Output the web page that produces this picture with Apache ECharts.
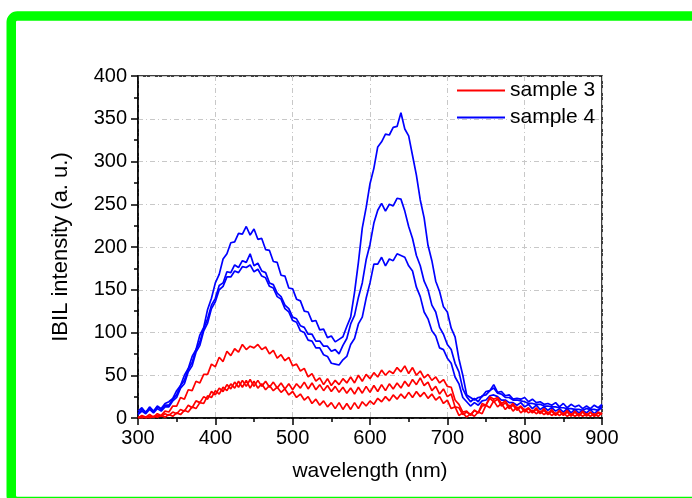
<!DOCTYPE html>
<html>
<head>
<meta charset="utf-8">
<script src="https://cdn.jsdelivr.net/npm/echarts@6/dist/echarts.min.js"></script>
<style>
html,body{margin:0;padding:0;background:#fff;}
#chart{width:692px;height:498px;}
</style>
</head>
<body>
<div id="chart"></div>
<script>
const wavelength = [300,305,310,315,320,325,330,335,340,345,350,355,360,365,370,375,380,385,390,395,
400,405,410,415,420,425,430,435,440,445,450,455,460,465,470,475,480,485,490,495,
500,505,510,515,520,525,530,535,540,545,550,555,560,565,570,575,580,585,590,595,
600,605,610,615,620,625,630,635,640,645,650,655,660,665,670,675,680,685,690,695,
700,705,710,715,720,725,730,735,740,745,750,755,760,765,770,775,780,785,790,795,
800,805,810,815,820,825,830,835,840,845,850,855,860,865,870,875,880,885,890,895,900];

// sample 4 (blue) - three spectra
const s4a = [8,12,6,13,8,14,11,17,19,23,32,38,50,58,72,80,97,106,127,140,
158,168,186,192,205,206,216,215,224,214,221,209,210,197,196,183,182,167,166,152,
151,139,137,125,124,113,114,103,104,94,96,89,92,95,107,118,147,182,222,246,
274,292,317,323,332,331,340,341,357,338,330,307,284,255,234,202,184,160,148,130,
124,105,95,69,50,27,24,21,24,25,31,32,39,30,31,26,27,22,23,22,
24,19,22,18,19,16,17,15,18,13,17,12,16,13,15,11,14,11,15,12,16];
const s4b = [5,10,7,12,7,13,10,15,15,22,27,38,44,57,65,80,89,105,116,132,
140,155,158,171,170,179,176,184,182,192,178,181,172,170,158,156,146,142,132,128,
118,116,108,106,98,98,90,90,84,84,78,80,75,85,93,110,120,141,158,185,
203,228,243,251,242,250,248,257,256,242,224,210,190,178,160,150,132,124,106,98,
86,80,64,54,34,25,19,23,19,26,27,32,35,29,28,24,24,21,21,20,
19,17,17,16,16,14,14,13,13,12,12,11,11,10,10,9,11,10,10,9,15];
const s4c = [4,8,5,10,6,11,8,13,13,20,24,35,40,54,61,77,85,102,111,128,
136,150,154,165,165,172,170,177,176,179,171,174,166,164,154,152,142,139,128,124,
114,112,102,100,91,90,82,82,74,72,64,63,62,68,72,86,93,110,118,140,
158,180,180,188,178,186,184,192,190,188,178,172,153,142,124,116,102,96,82,80,
70,64,48,40,24,19,14,18,15,20,21,26,27,25,21,21,18,18,15,18,
13,16,11,15,10,13,9,12,8,11,7,11,6,10,6,9,6,10,5,9,12];

// sample 3 (red) - three spectra
const s3a = [0,3,1,4,1,5,3,8,7,14,14,24,22,33,32,43,41,51,51,63,
60,71,66,78,73,81,77,86,80,84,82,86,80,83,75,79,70,74,67,71,
61,63,55,58,48,52,43,47,39,46,38,44,39,46,41,48,41,50,43,51,
46,53,48,56,50,55,52,59,54,61,52,59,50,55,47,51,44,48,41,45,
37,36,21,16,7,8,3,9,6,14,15,25,22,24,17,20,13,17,11,14,
9,12,7,12,6,11,5,10,4,9,4,9,3,8,3,8,3,7,2,7,5];
const s3b = [1,0,1,0,2,1,3,1,4,2,6,4,9,7,13,11,18,17,26,24,
32,28,36,32,40,35,43,36,44,35,43,35,40,33,38,32,36,30,34,27,
31,24,28,21,25,17,22,15,20,13,18,11,18,10,17,10,18,11,19,14,
20,16,23,19,25,20,27,22,28,23,30,24,31,25,30,23,28,21,25,17,
21,11,13,3,6,1,5,2,7,5,15,12,20,13,17,10,15,8,13,6,
10,6,9,5,8,4,7,3,6,3,6,2,5,2,5,2,5,2,5,2,6];
const s3c = [0,2,0,2,1,3,2,5,3,7,5,10,8,15,12,20,18,25,22,31,
27,35,31,39,34,42,36,44,37,45,37,44,37,43,36,42,35,41,34,40,
33,40,35,42,34,41,33,39,32,38,31,37,30,36,29,35,28,36,29,37,
30,38,31,39,32,40,34,41,35,43,37,45,39,47,38,42,32,37,28,34,
25,28,13,12,4,7,4,9,6,17,15,23,19,22,14,18,11,15,9,13,
7,11,6,10,5,9,4,8,3,8,3,7,2,7,2,7,2,7,2,6,4];

const legendNames = ['sample 3', 'sample 4'];
const xTicks = [300, 400, 500, 600, 700, 800, 900];
const yTicks = [0, 50, 100, 150, 200, 250, 300, 350, 400];

const FONT = '"Liberation Sans", Arial, sans-serif';
function pairs(ys){ return wavelength.map((x,i)=>[x, ys[i]]); }
function mk(name, color, ys, z){
  return {name:name, type:'line', data:pairs(ys), showSymbol:false, symbol:'none',
    lineStyle:{color:color, width:1.7}, itemStyle:{color:color}, z:z, animation:false, silent:true};
}

const chart = echarts.init(document.getElementById('chart'), null, {renderer:'canvas'});
chart.setOption({
  animation:false,
  backgroundColor:'#ffffff',
  graphic:[{type:'rect', shape:{x:11.25, y:16, width:800, height:485.5, r:6},
    style:{fill:'none', stroke:'#00ff00', lineWidth:9.5}, z:100}],
  grid:{left:138, right:90, top:76, bottom:80, show:true, borderColor:'#000', borderWidth:1.5, backgroundColor:'transparent'},
  legend:{data:legendNames, left:452, top:75, orient:'vertical', icon:'rect', itemWidth:48, itemHeight:2, itemGap:6,
    textStyle:{fontFamily:FONT, fontSize:21, color:'#000'}},
  xAxis:{type:'value', min:xTicks[0], max:xTicks[xTicks.length-1], interval:100,
    name:'wavelength (nm)', nameLocation:'middle', nameGap:43,
    nameTextStyle:{fontFamily:FONT, fontSize:21, color:'#000'},
    axisLine:{show:true, onZero:false, lineStyle:{color:'#000', width:1.5}},
    axisTick:{show:true, inside:false, length:7, lineStyle:{color:'#000', width:1.5}},
    minorTick:{show:true, splitNumber:2, length:4, lineStyle:{color:'#000', width:1.5}},
    axisLabel:{fontFamily:FONT, fontSize:20, color:'#000', margin:10},
    splitLine:{show:true, lineStyle:{color:'#c8c8c8', width:1, type:[5,3,1,3]}}},
  yAxis:{type:'value', min:yTicks[0], max:yTicks[yTicks.length-1], interval:50,
    name:'IBIL intensity (a. u.)', nameLocation:'middle', nameGap:66,
    nameTextStyle:{fontFamily:FONT, fontSize:22, color:'#000'},
    axisLine:{show:true, onZero:false, lineStyle:{color:'#000', width:1.5}},
    axisTick:{show:true, inside:false, length:7, lineStyle:{color:'#000', width:1.5}},
    minorTick:{show:true, splitNumber:2, length:4, lineStyle:{color:'#000', width:1.5}},
    axisLabel:{fontFamily:FONT, fontSize:20, color:'#000', margin:11},
    splitLine:{show:true, lineStyle:{color:'#c8c8c8', width:1, type:[5,3,1,3]}}},
  series:[
    mk('sample 3', '#ff0000', s3a, 4),
    mk('sample 3', '#ff0000', s3b, 4),
    mk('sample 3', '#ff0000', s3c, 4),
    mk('sample 4', '#0000ff', s4a, 3),
    mk('sample 4', '#0000ff', s4b, 3),
    mk('sample 4', '#0000ff', s4c, 3)
  ]
});
</script>
</body>
</html>
